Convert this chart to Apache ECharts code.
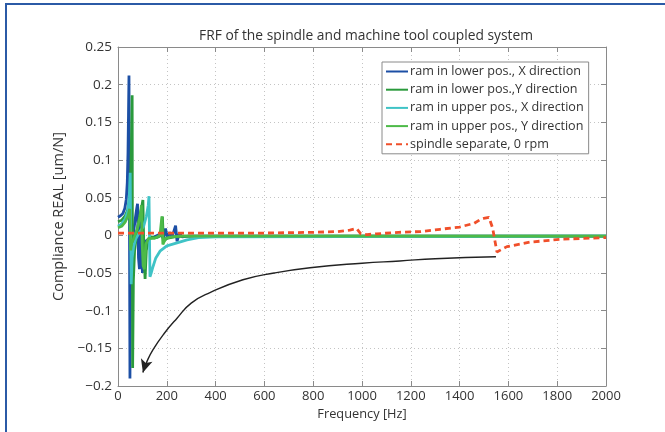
<!DOCTYPE html>
<html>
<head>
<meta charset="utf-8">
<script src="https://cdn.jsdelivr.net/npm/echarts@6/dist/echarts.min.js"></script>
<style>
  html, body { margin: 0; padding: 0; background: #fff; }
  #wrap { position: relative; width: 665px; height: 432px; overflow: hidden; }
  /* blue page frame, top and left only */
  .frame { position: absolute; left: 5px; top: 3px; width: 700px; height: 460px;
           border-top: 2px solid #2b5aa6; border-left: 2px solid #2b5aa6; }
  #chart { position: absolute; left: 0; top: 0; width: 665px; height: 432px; }
</style>
</head>
<body>
<div id="wrap">
  <div class="frame"></div>
  <div id="chart"></div>
</div>
<script>
// series names (legend order)
const names = [
  'ram in lower pos., X direction',
  'ram in lower pos.,Y direction',
  'ram in upper pos., X direction',
  'ram in upper pos., Y direction',
  'spindle separate, 0 rpm'
]

// [frequency Hz, compliance um/N]
const lowerX = [
  [0, 0.024], [10, 0.026], [20, 0.029], [28, 0.036], [34, 0.048], [38, 0.07], [41, 0.11],
  [43, 0.16], [45, 0.212], [47, 0.02], [49, -0.19], [51, -0.07], [55, -0.025], [62, 0.0],
  [70, 0.02], [76, 0.034], [80, 0.042], [84, -0.03], [88, -0.045], [92, 0.0], [96, 0.036],
  [100, -0.05], [104, -0.02], [112, -0.008], [130, -0.004], [150, -0.002], [175, 0.002],
  [185, -0.004], [195, 0.009], [202, -0.004], [212, 0.004], [222, -0.002], [236, 0.013],
  [242, -0.008], [252, 0.003], [262, -0.002], [290, -0.001], [2000, -0.001]
]
const lowerY = [
  [0, 0.018], [15, 0.02], [30, 0.026], [40, 0.034], [48, 0.05], [53, 0.09], [56, 0.14],
  [58, 0.186], [59, 0.0], [60, -0.176], [63, -0.06], [68, -0.02], [76, 0.0], [86, 0.02],
  [96, 0.035], [102, 0.047], [106, -0.02], [111, -0.058], [116, -0.02], [124, -0.006],
  [135, -0.002], [160, -0.003], [178, 0.0], [182, 0.025], [186, -0.008], [200, -0.004],
  [230, -0.002], [270, -0.001], [2000, -0.001]
]
const upperX = [
  [0, 0.012], [15, 0.015], [30, 0.022], [40, 0.032], [46, 0.05], [50, 0.083], [52, 0.0],
  [54, -0.065], [58, -0.03], [64, -0.015], [72, -0.005], [90, 0.005], [105, 0.012],
  [116, 0.025], [124, 0.04], [127, 0.052], [129, 0.0], [131, -0.055], [136, -0.05],
  [143, -0.042], [155, -0.03], [172, -0.021], [200, -0.014], [242, -0.01], [283, -0.006],
  [330, -0.003], [400, -0.002], [2000, -0.001]
]
const upperY = [
  [0, 0.01], [15, 0.012], [30, 0.018], [40, 0.025], [48, 0.035], [52, -0.02], [56, -0.01],
  [65, -0.004], [80, 0.01], [90, 0.025], [96, 0.04], [99, -0.01], [103, -0.04], [108, -0.045],
  [114, -0.012], [125, -0.004], [150, -0.004], [172, 0.0], [180, 0.025], [184, -0.012],
  [195, -0.004], [220, -0.002], [260, -0.001], [2000, -0.001]
]
const separate = [
  [0, 0.003], [200, 0.003], [400, 0.003], [600, 0.003], [800, 0.004], [900, 0.005],
  [950, 0.007], [978, 0.009], [995, 0.002], [1020, 0.001], [1060, 0.002], [1150, 0.004],
  [1240, 0.005], [1320, 0.008], [1400, 0.011], [1460, 0.016], [1485, 0.021], [1504, 0.023],
  [1520, 0.024], [1535, 0.01], [1553, -0.022], [1594, -0.015], [1689, -0.009], [1824, -0.005],
  [2000, -0.003]
]
// hand-drawn annotation arrow
const arrowPath = [
  [1549, -0.0285], [1300, -0.031], [1155, -0.034], [1000, -0.037], [787, -0.043],
  [640, -0.05], [512, -0.059], [377, -0.076], [300, -0.09], [242, -0.11], [190, -0.13],
  [143, -0.152], [118, -0.168], [102, -0.182]
]

const xTicks = { min: 0, max: 2000, interval: 200 }
const yTicks = { min: -0.2, max: 0.25, interval: 0.05 }

const colors = ['#1c4fa5', '#2a9a3c', '#3fc3c6', '#4dba48', '#f04f2a']
const font = '"Open Sans", "DejaVu Sans", sans-serif'
const grid = { left: 118, right: 59, top: 47, bottom: 46 }

const fmtY = v => String(+v.toFixed(2)).replace('-', '\u2212')

const frameAxis = {
  axisLine: { show: true, onZero: false, lineStyle: { color: '#8a8a8a', width: 1 } },
  axisTick: { show: true, inside: true, length: 5, lineStyle: { color: '#8a8a8a' } }
}

const chart = echarts.init(document.getElementById('chart'))

const lineSeries = [lowerX, lowerY, upperX, upperY].map((d, i) => ({
  name: names[i],
  type: 'line',
  data: d,
  symbol: 'none',
  lineStyle: { color: colors[i], width: 2.8 },
  itemStyle: { color: colors[i] }
}))

const arrowData = arrowPath.map((p, i) => i === arrowPath.length - 1
  ? { value: p, symbol: 'arrow', symbolSize: [9, 13], symbolRotate: 163 }
  : { value: p, symbol: 'none' })

chart.setOption({
  backgroundColor: 'transparent',
  animation: false,
  textStyle: { fontFamily: font },
  title: {
    text: 'FRF of the spindle and machine tool coupled system',
    left: 361,
    top: 24,
    textAlign: 'center',
    textStyle: { fontSize: 13.8, fontWeight: 'normal', color: '#333', fontFamily: font }
  },
  legend: {
    data: names,
    orient: 'vertical',
    left: 382,
    top: 62,
    itemWidth: 22,
    itemHeight: 12,
    itemGap: 5.2,
    padding: [3, 5, 3, 3],
    borderColor: '#8a8a8a',
    borderWidth: 1,
    backgroundColor: '#fff',
    itemStyle: { opacity: 0 },
    textStyle: { fontSize: 12.6, color: '#333', padding: [0, 0, 0, -3], fontFamily: font }
  },
  grid: grid,
  xAxis: [
    Object.assign({
      type: 'value', ...xTicks,
      name: 'Frequency [Hz]', nameLocation: 'middle', nameGap: 16,
      nameTextStyle: { fontSize: 12.8, color: '#333', fontFamily: font },
      axisLabel: { color: '#333', fontSize: 13, margin: 4, fontFamily: font, formatter: v => String(v) },
      splitLine: { show: true, lineStyle: { color: '#c4c4c4', type: [1, 3] } }
    }, frameAxis),
    Object.assign({
      type: 'value', ...xTicks, position: 'top',
      axisLabel: { show: false }, splitLine: { show: false }
    }, frameAxis)
  ],
  yAxis: [
    Object.assign({
      type: 'value', ...yTicks,
      name: 'Compliance REAL [um/N]', nameLocation: 'middle', nameGap: 43,
      nameTextStyle: { fontSize: 14.5, color: '#333', fontFamily: font },
      axisLabel: { color: '#333', fontSize: 13.5, margin: 6, formatter: fmtY, fontFamily: font },
      splitLine: { show: true, lineStyle: { color: '#c4c4c4', type: [1, 3] } }
    }, frameAxis),
    Object.assign({
      type: 'value', ...yTicks, position: 'right',
      axisLabel: { show: false }, splitLine: { show: false }
    }, frameAxis)
  ],
  series: [
    ...lineSeries,
    {
      name: names[4],
      type: 'line',
      data: separate,
      symbol: 'none',
      lineStyle: { color: colors[4], width: 2.8, type: [6, 4] },
      itemStyle: { color: colors[4] }
    },
    {
      name: 'arrow',
      type: 'line',
      data: arrowData,
      smooth: true,
      showAllSymbol: true,
      lineStyle: { color: '#222', width: 1.4 },
      itemStyle: { color: '#222' },
      z: 5
    }
  ]
})
</script>
</body>
</html>
